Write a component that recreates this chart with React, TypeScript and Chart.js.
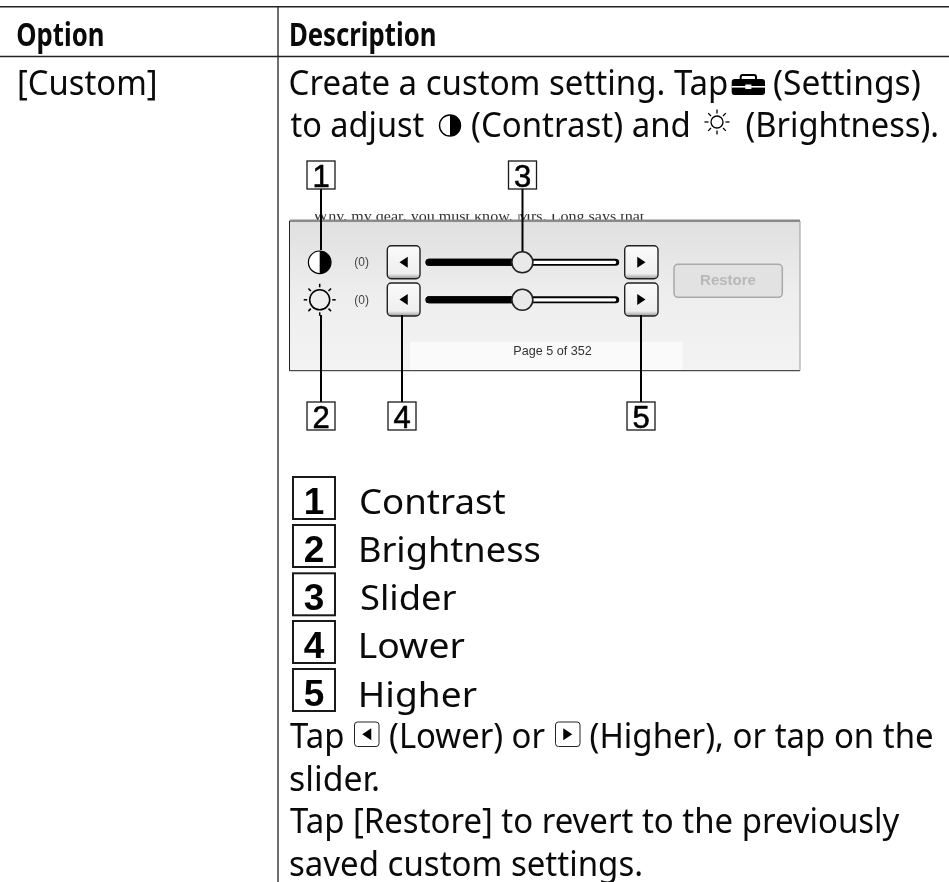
import React, { useEffect, useRef } from "react";
import { Chart, registerables } from "chart.js";

Chart.register(...registerables);

// ---- content ----
const HEADERS = ["Option", "Description"];
const OPTION_LABELS = ["[Custom]"];
const LEGEND_NUMBERS = ["1", "2", "3", "4", "5"];
const LEGEND_LABELS = ["Contrast", "Brightness", "Slider", "Lower", "Higher"];
const INTRO_RUNS = ["Create a custom setting. Tap", "(Settings)", "to adjust", "(Contrast) and", "(Brightness)."];
const BODY_RUNS = ["Tap", "(Lower) or", "(Higher), or tap on the", "slider.", "Tap [Restore] to revert to the previously", "saved custom settings."];
const CLIPPED_PAGE_TEXT = "Why, my dear, you must know, Mrs. Long says that";
const SLIDER_VALUE_LABELS = ["(0)", "(0)"];
const SLIDER_VALUES = [0, 0];
const SLIDER_MIN = -10;
const SLIDER_MAX = 10;
const RESTORE_LABEL = "Restore";
const PAGE_LABEL = "Page 5 of 352";

// ---- layout (page pixels, mapped through the chart's scales) ----
const W = 949;
const H = 882;
const SANS = '"Noto Sans"';
const ARIAL = '"Liberation Sans"';
const BODY_FONT = `34px ${SANS}`;
const LEGEND_FONT = `35px ${SANS}`;
const HEADER_FONT = `bold 32px ${SANS}`;
const HEADER_BOX = [[17, 103, 46], [290.5, 435, 46]];
const OPTION_BOX = [19, 155.5, 95];
const INTRO_BOX = [[290.5, 727.5, 95], [774, 919.5, 95], [290.5, 424, 137], [472, 689, 137], [746.5, 937, 137]];
const BODY_BOX = [[290, 343.5, 747.7], [390, 545, 747.7], [590.5, 932.5, 747.7], [290, 378, 790.5], [290, 900, 833.3], [290, 641, 876]];
const LEGEND_TEXT_BOX = [[361, 505, 513.7], [361, 540, 561.7], [361, 456, 610], [361, 464.3, 658], [361, 476.5, 706.5]];
const LEGEND_BOX_Y = [477, 525, 573.3, 621, 669];
const CALLOUT_CENTERS = [[321, 175], [321, 416], [522.5, 175], [402, 416], [641, 416]];
const LEADERS = [[321, 189, 250], [321, 315, 402], [522.5, 189, 253], [402, 315, 402], [641, 315, 402]];
const RULES_H = [[0, W, 6.7], [0, W, 56.5]];
const RULE_V = [278, 6, 882];
const SLIDER_Y = [262.3, 299.8];
const TRACK = [429, 615.7];
const PANEL = [289.5, 218, 800, 370.7];
const BTN_LEFT_X = [387.3, 420];
const BTN_RIGHT_X = [624.7, 658];
const BTN_Y = [[245.7, 278.7], [283, 316]];

const sliderX = (v: number) => TRACK[0] + ((v - SLIDER_MIN) / (SLIDER_MAX - SLIDER_MIN)) * (TRACK[1] - TRACK[0]);

function segments(list: number[][], horizontal: boolean) {
  const out: any[] = [];
  list.forEach((s) => {
    if (horizontal) out.push({ x: s[0], y: s[2] }, { x: s[1], y: s[2] }, { x: s[1], y: null });
    else out.push({ x: s[0], y: s[1] }, { x: s[0], y: s[2] }, { x: s[0], y: null });
  });
  return out;
}

function fit(ctx: CanvasRenderingContext2D, text: string, x0: number, x1: number, base: number, font: string, color = "#0a0a0a") {
  ctx.save();
  ctx.font = font;
  ctx.fillStyle = color;
  ctx.textAlign = "left";
  ctx.textBaseline = "alphabetic";
  const m = ctx.measureText(text);
  const w = m.actualBoundingBoxRight + m.actualBoundingBoxLeft;
  ctx.translate(x0, base);
  ctx.scale((x1 - x0) / w, 1);
  ctx.fillText(text, m.actualBoundingBoxLeft, 0);
  ctx.restore();
}

function rr(ctx: CanvasRenderingContext2D, x0: number, y0: number, x1: number, y1: number, r: number) {
  ctx.beginPath();
  ctx.roundRect(x0, y0, x1 - x0, y1 - y0, r);
}

function triangle(ctx: CanvasRenderingContext2D, cx: number, cy: number, s: number, dir: number) {
  ctx.fillStyle = "#000";
  ctx.beginPath();
  ctx.moveTo(cx + dir * s * 0.75, cy);
  ctx.lineTo(cx - dir * s * 0.75, cy - s);
  ctx.lineTo(cx - dir * s * 0.75, cy + s);
  ctx.closePath();
  ctx.fill();
}

function panelButton(ctx: CanvasRenderingContext2D, x0: number, x1: number, y0: number, y1: number, dir: number) {
  const g = ctx.createLinearGradient(0, y0, 0, y1);
  g.addColorStop(0, "#fafafa");
  g.addColorStop(0.85, "#efefef");
  g.addColorStop(1, "#9a9a9a");
  rr(ctx, x0, y0, x1, y1, 4);
  ctx.fillStyle = g;
  ctx.fill();
  ctx.lineWidth = 1.4;
  ctx.strokeStyle = "#222";
  ctx.stroke();
  triangle(ctx, (x0 + x1) / 2, (y0 + y1) / 2, 5.5, dir);
}

function contrastIcon(ctx: CanvasRenderingContext2D, cx: number, cy: number, r: number, lw: number) {
  ctx.beginPath();
  ctx.arc(cx, cy, r, 0, Math.PI * 2);
  ctx.fillStyle = "#fff";
  ctx.fill();
  ctx.beginPath();
  ctx.arc(cx, cy, r, -Math.PI / 2, Math.PI / 2);
  ctx.closePath();
  ctx.fillStyle = "#000";
  ctx.fill();
  ctx.beginPath();
  ctx.arc(cx, cy, r, 0, Math.PI * 2);
  ctx.lineWidth = lw;
  ctx.strokeStyle = "#000";
  ctx.stroke();
}

function sunIcon(ctx: CanvasRenderingContext2D, cx: number, cy: number, r: number, r0: number, r1: number, lw: number) {
  ctx.strokeStyle = "#000";
  ctx.lineWidth = lw;
  ctx.beginPath();
  ctx.arc(cx, cy, r, 0, Math.PI * 2);
  ctx.stroke();
  for (let i = 0; i < 8; i++) {
    const a = (i * Math.PI) / 4;
    ctx.beginPath();
    ctx.moveTo(cx + Math.cos(a) * r0, cy + Math.sin(a) * r0);
    ctx.lineTo(cx + Math.cos(a) * r1, cy + Math.sin(a) * r1);
    ctx.stroke();
  }
}

function toolbox(ctx: CanvasRenderingContext2D, x0: number, x1: number, y0: number, y1: number) {
  ctx.fillStyle = "#000";
  ctx.strokeStyle = "#000";
  ctx.lineWidth = 2;
  rr(ctx, x0 + 9, y0 + 1, x1 - 9, y0 + 8, 2);
  ctx.stroke();
  rr(ctx, x0, y0 + 5, x1, y1, 3);
  ctx.fill();
  ctx.fillStyle = "#fff";
  ctx.fillRect(x0, y0 + 12, x1 - x0, 1.6);
  ctx.fillRect((x0 + x1) / 2 - 3, y0 + 10.5, 6, 4.5);
}

function textButton(ctx: CanvasRenderingContext2D, x0: number, x1: number, y0: number, y1: number, dir: number) {
  rr(ctx, x0, y0, x1, y1, 3);
  ctx.fillStyle = "#fff";
  ctx.fill();
  ctx.lineWidth = 1;
  ctx.strokeStyle = "#222";
  ctx.stroke();
  triangle(ctx, (x0 + x1) / 2, (y0 + y1) / 2, 6, dir);
}

function numberedBox(ctx: CanvasRenderingContext2D, x0: number, x1: number, y0: number, y1: number, label: string, font: string, size: number, lw: number, strokeW: number, shift: number) {
  ctx.fillStyle = "#fff";
  ctx.fillRect(x0, y0, x1 - x0, y1 - y0);
  ctx.strokeStyle = "#1a1a1a";
  ctx.lineWidth = lw;
  ctx.strokeRect(x0, y0, x1 - x0, y1 - y0);
  ctx.font = font;
  ctx.textAlign = "center";
  ctx.textBaseline = "alphabetic";
  ctx.fillStyle = "#000";
  ctx.strokeStyle = "#000";
  ctx.lineWidth = strokeW;
  const base = (y0 + y1) / 2 + size * 0.358 + shift;
  ctx.fillText(label, (x0 + x1) / 2, base);
  if (strokeW > 0) ctx.strokeText(label, (x0 + x1) / 2, base);
}

const pagePlugin = {
  id: "page",
  beforeDatasetsDraw(chart: any) {
    const { ctx, scales } = chart;
    const X = (v: number) => scales.x.getPixelForValue(v);
    const Y = (v: number) => scales.y.getPixelForValue(v);
    ctx.save();
    // screen panel
    const [px0, py0, px1, py1] = [X(PANEL[0]), Y(PANEL[1]), X(PANEL[2]), Y(PANEL[3])];
    ctx.save();
    ctx.beginPath();
    ctx.rect(px0, py0 - 4, px1 - px0, 7.5);
    ctx.clip();
    fit(ctx, CLIPPED_PAGE_TEXT, X(313), X(645), Y(221), `15.5px "Liberation Serif"`, "#333");
    ctx.restore();
    const g = ctx.createLinearGradient(0, py0 + 4, 0, py1);
    g.addColorStop(0, "#e0e0e0");
    g.addColorStop(0.5, "#eeeeee");
    g.addColorStop(1, "#f3f3f3");
    ctx.fillStyle = g;
    ctx.fillRect(px0, py0 + 4, px1 - px0, py1 - py0 - 4);
    ctx.fillStyle = "#fafafa";
    ctx.fillRect(X(410), Y(341.7), X(682.7) - X(410), py1 - Y(341.7));
    ctx.fillStyle = "#8a8a8a";
    ctx.fillRect(px0, py0 + 1.5, px1 - px0, 2.5);
    ctx.strokeStyle = "#222";
    ctx.lineWidth = 1;
    ctx.beginPath();
    ctx.moveTo(px0, py0 + 3);
    ctx.lineTo(px0, py1);
    ctx.lineTo(px1, py1);
    ctx.stroke();
    ctx.strokeStyle = "#999";
    ctx.beginPath();
    ctx.moveTo(px1, py0 + 3);
    ctx.lineTo(px1, py1);
    ctx.stroke();
    // controls
    BTN_Y.forEach((b) => {
      panelButton(ctx, X(BTN_LEFT_X[0]), X(BTN_LEFT_X[1]), Y(b[0]), Y(b[1]), -1);
      panelButton(ctx, X(BTN_RIGHT_X[0]), X(BTN_RIGHT_X[1]), Y(b[0]), Y(b[1]), 1);
    });
    SLIDER_VALUE_LABELS.forEach((t, i) => {
      ctx.font = `12px ${ARIAL}`;
      ctx.textAlign = "center";
      ctx.textBaseline = "middle";
      ctx.fillStyle = "#444";
      ctx.fillText(t, X(361.7), Y(SLIDER_Y[i]) + 0.5);
    });
    contrastIcon(ctx, X(319.7), Y(SLIDER_Y[0]), 11.3, 1.2);
    sunIcon(ctx, X(319.7), Y(SLIDER_Y[1]), 10, 12.5, 16, 1.5);
    rr(ctx, X(674), Y(264.3), X(782.3), Y(297.3), 4);
    ctx.fillStyle = "#e2e2e2";
    ctx.fill();
    ctx.lineWidth = 1.5;
    ctx.strokeStyle = "#a9a9a9";
    ctx.stroke();
    ctx.font = `bold 15px ${ARIAL}`;
    ctx.textAlign = "center";
    ctx.textBaseline = "middle";
    ctx.fillStyle = "#b8b8b8";
    ctx.fillText(RESTORE_LABEL, X(728), Y(281));
    ctx.font = `12.6px ${ARIAL}`;
    ctx.fillStyle = "#333";
    ctx.fillText(PAGE_LABEL, X(552.5), Y(352));
    ctx.restore();
  },
  afterDatasetsDraw(chart: any) {
    const { ctx, scales } = chart;
    const X = (v: number) => scales.x.getPixelForValue(v);
    const Y = (v: number) => scales.y.getPixelForValue(v);
    ctx.save();
    HEADERS.forEach((t, i) => fit(ctx, t, X(HEADER_BOX[i][0]), X(HEADER_BOX[i][1]), Y(HEADER_BOX[i][2]), HEADER_FONT));
    fit(ctx, OPTION_LABELS[0], X(OPTION_BOX[0]), X(OPTION_BOX[1]), Y(OPTION_BOX[2]), BODY_FONT);
    INTRO_RUNS.forEach((t, i) => fit(ctx, t, X(INTRO_BOX[i][0]), X(INTRO_BOX[i][1]), Y(INTRO_BOX[i][2]), BODY_FONT));
    BODY_RUNS.forEach((t, i) => fit(ctx, t, X(BODY_BOX[i][0]), X(BODY_BOX[i][1]), Y(BODY_BOX[i][2]), BODY_FONT));
    LEGEND_LABELS.forEach((t, i) => fit(ctx, t, X(LEGEND_TEXT_BOX[i][0]), X(LEGEND_TEXT_BOX[i][1]), Y(LEGEND_TEXT_BOX[i][2]), LEGEND_FONT));
    LEGEND_NUMBERS.forEach((t, i) => {
      numberedBox(ctx, X(293), X(335), Y(LEGEND_BOX_Y[i]), Y(LEGEND_BOX_Y[i] + 42), t, `bold 37px ${ARIAL}`, 37, 2, 0, 2.5);
      numberedBox(ctx, X(CALLOUT_CENTERS[i][0] - 14), X(CALLOUT_CENTERS[i][0] + 14), Y(CALLOUT_CENTERS[i][1] - 14), Y(CALLOUT_CENTERS[i][1] + 14), t, `31px ${ARIAL}`, 31, 1.3, 0.6, 1);
    });
    toolbox(ctx, X(731.7), X(765), Y(74), Y(95));
    contrastIcon(ctx, X(450), Y(125.5), 10.5, 1.4);
    sunIcon(ctx, X(717), Y(122), 6, 8.5, 12.5, 1.3);
    textButton(ctx, X(354.5), X(379), Y(722), Y(746.5), -1);
    textButton(ctx, X(555.5), X(580), Y(722), Y(746.5), 1);
    ctx.restore();
  },
};

export default function App() {
  const ref = useRef<HTMLCanvasElement>(null);
  useEffect(() => {
    document.body.style.margin = "0";
    const line = (data: any[], color: string, width: number, cap: CanvasLineCap = "butt") => ({
      type: "line" as const,
      data,
      borderColor: color,
      borderWidth: width,
      borderCapStyle: cap,
      pointRadius: 0,
      spanGaps: false,
      tension: 0,
    });
    const thumbs = SLIDER_VALUES.map((v, i) => ({ x: sliderX(v), y: SLIDER_Y[i] }));
    const filled = SLIDER_VALUES.flatMap((v, i) => [
      { x: TRACK[0], y: SLIDER_Y[i] },
      { x: sliderX(v), y: SLIDER_Y[i] },
      { x: sliderX(v), y: null },
    ]);
    const emptyLane = SLIDER_VALUES.flatMap((v, i) => [
      { x: sliderX(v), y: SLIDER_Y[i] },
      { x: TRACK[1] - 1, y: SLIDER_Y[i] },
      { x: TRACK[1], y: null },
    ]);
    const outline = SLIDER_Y.flatMap((y) => [
      { x: TRACK[0], y },
      { x: TRACK[1], y },
      { x: TRACK[1], y: null },
    ]);
    const chart = new Chart(ref.current as HTMLCanvasElement, {
      type: "line",
      data: {
        datasets: [
          {
            ...line(thumbs, "#222", 0),
            showLine: false,
            pointRadius: 10.5,
            pointBackgroundColor: "#e9e9e9",
            pointBorderColor: "#222",
            pointBorderWidth: 1.6,
          },
          line(emptyLane, "#fff", 3.2, "round"),
          line(filled, "#000", 7, "round"),
          line(outline, "#000", 7, "round"),
          line(segments(LEADERS, false), "#000", 2),
          line(segments(RULES_H, true), "#222", 1.6),
          line(segments([RULE_V], false), "#222", 1.3),
        ] as any,
      },
      options: {
        animation: false,
        responsive: false,
        layout: { padding: 0, autoPadding: false },
        events: [],
        clip: false as any,
        plugins: { legend: { display: false }, tooltip: { enabled: false }, title: { display: false } },
        scales: {
          x: { type: "linear", min: 0, max: W, display: false },
          y: { type: "linear", min: 0, max: H, reverse: true, display: false },
        },
      },
      plugins: [pagePlugin],
    });
    return () => chart.destroy();
  }, []);
  return (
    <div style={{ width: W, height: H, background: "#fff" }}>
      <canvas ref={ref} width={W} height={H} style={{ display: "block" }} />
    </div>
  );
}
